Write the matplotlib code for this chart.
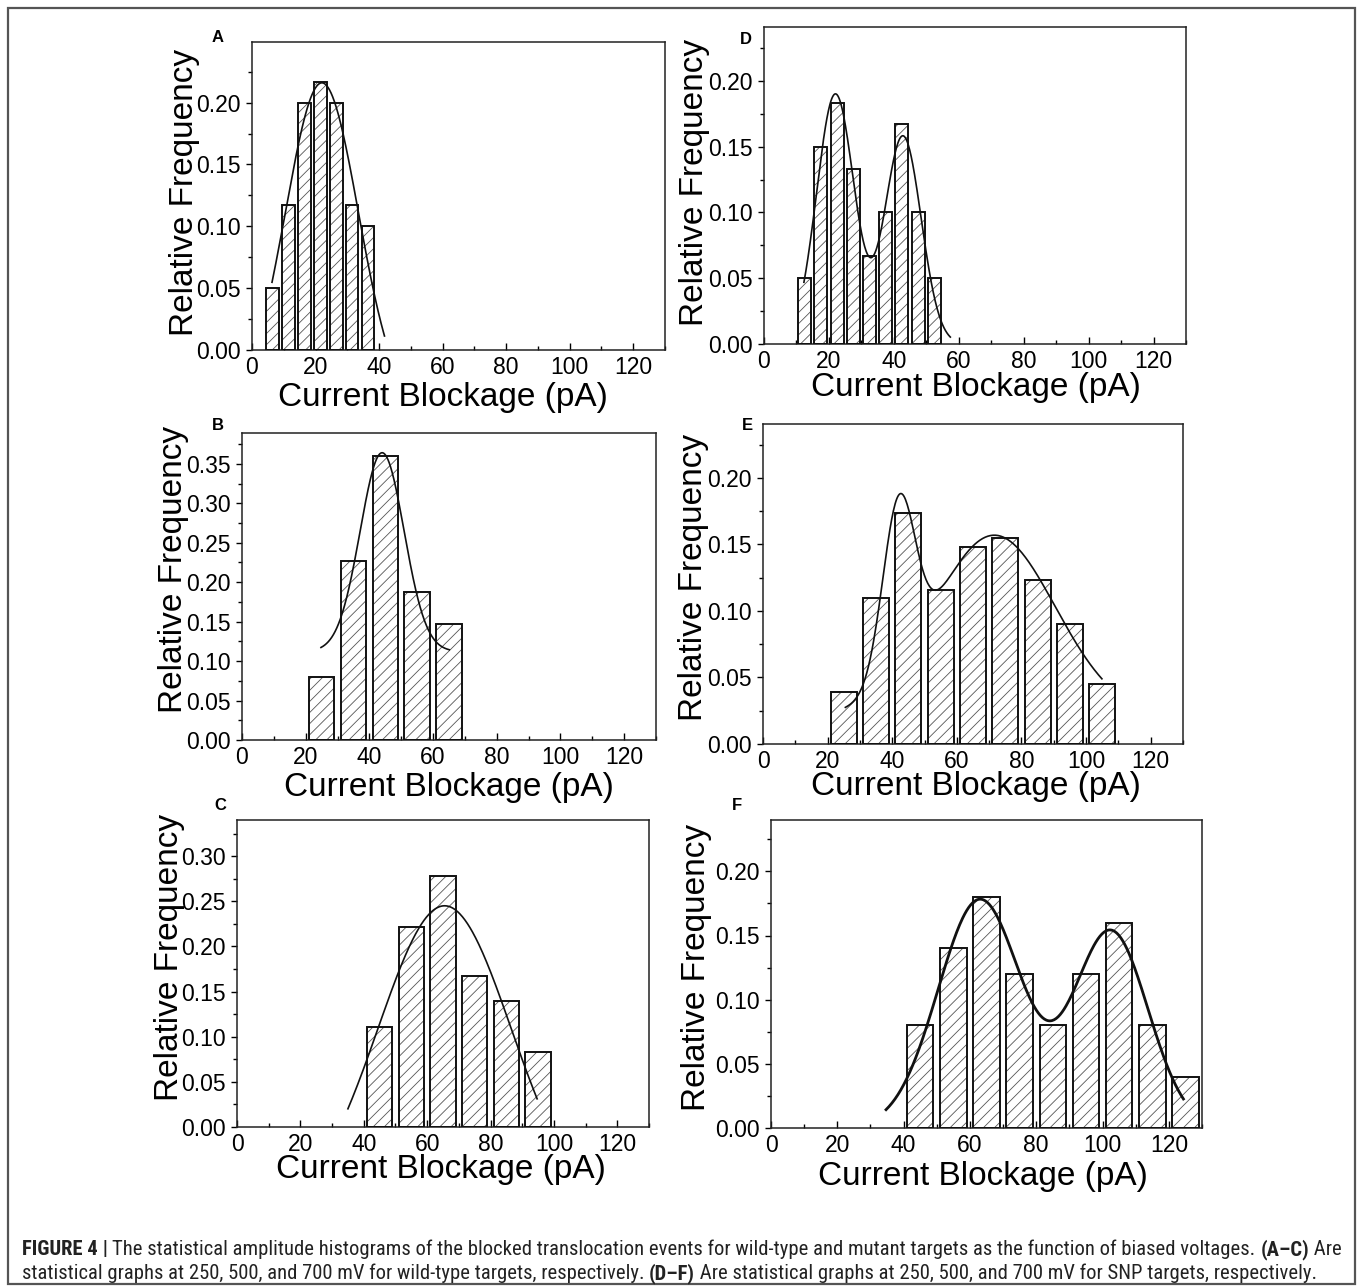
import numpy as np
import matplotlib
matplotlib.use("Agg")
from matplotlib import pyplot as plt
from matplotlib import font_manager
from matplotlib.patches import Rectangle
from matplotlib.ticker import MultipleLocator, FormatStrFormatter

plt.rcParams['font.family'] = ['Liberation Sans', 'DejaVu Sans']
plt.rcParams['hatch.linewidth'] = 0.6

W, H = 1358, 1288

# ---- data ----
a_centers = [6.5, 11.5, 16.5, 21.5, 26.5, 31.5, 36.5]
a_freq = [0.050, 0.117, 0.200, 0.217, 0.200, 0.117, 0.100]
b_centers = [25, 35, 45, 55, 65]
b_freq = [0.080, 0.227, 0.360, 0.187, 0.147]
c_centers = [45, 55, 65, 75, 85, 95]
c_freq = [0.111, 0.222, 0.278, 0.167, 0.139, 0.083]
d_centers = [12.5, 17.5, 22.5, 27.5, 32.5, 37.5, 42.5, 47.5, 52.5]
d_freq = [0.050, 0.150, 0.183, 0.133, 0.067, 0.100, 0.167, 0.100, 0.050]
e_centers = [25, 35, 45, 55, 65, 75, 85, 95, 105]
e_freq = [0.039, 0.110, 0.174, 0.116, 0.148, 0.155, 0.123, 0.090, 0.045]
f_centers = [45, 55, 65, 75, 85, 95, 105, 115, 125]
f_freq = [0.080, 0.140, 0.180, 0.120, 0.080, 0.120, 0.160, 0.080, 0.040]

# gaussian fit parameters: offset, [(amplitude, centre, sigma), ...], x range
a_fit = (-0.050, [(0.266, 22.0, 11.5)], (6.3, 41.7))
b_fit = (0.112, [(0.252, 44.0, 6.9)], (24.8, 65.1))
c_fit = (-0.100, [(0.345, 65.5, 21.0)], (35.0, 94.7))
d_fit = (0.0, [(0.190, 22.0, 5.8), (0.158, 42.8, 5.6)], (12.3, 57.4))
e_fit = (0.020, [(0.127, 42.0, 5.0), (0.137, 71.6, 18.9)], (25.5, 104.9))
f_fit = (0.0, [(0.178, 63.0, 12.6), (0.153, 102.5, 11.2)], (34.7, 124.4))

panels = [
    # letter, centers, freq, bar width, fit, ymax, axes px (l, t, r, b),
    # letter pos, ylabel (x, cy), xlabel (cx, top), fit line width
    ("A", a_centers, a_freq, 4.0, a_fit, 0.249, (252, 42, 665, 350),
     (218, 38), (200, 192), (443, 382), 1.2),
    ("B", b_centers, b_freq, 8.0, b_fit, 0.389, (242, 433, 656, 740),
     (218, 425), (189, 569), (449, 772), 1.2),
    ("C", c_centers, c_freq, 8.0, c_fit, 0.34, (237, 820, 649, 1127),
     (220, 805), (185, 957), (441, 1154), 1.2),
    ("D", d_centers, d_freq, 4.0, d_fit, 0.241, (764, 27, 1186, 344),
     (746, 39), (710, 182), (976, 372), 1.2),
    ("E", e_centers, e_freq, 8.0, e_fit, 0.2406, (763, 424, 1183, 744),
     (747, 425), (709, 577), (976, 771), 1.2),
    ("F", f_centers, f_freq, 8.0, f_fit, 0.240, (771, 820, 1202, 1128),
     (737, 805), (712, 967), (983, 1161), 2.0),
]

fig = plt.figure(figsize=(W / 100, H / 100), dpi=100)


def fx(x):
    return x / W


def fy(y):
    return 1 - y / H


# outer frame
frame = Rectangle((fx(8), fy(1284)), fx(1355) - fx(8), fy(8) - fy(1284),
                  transform=fig.transFigure, fill=False, edgecolor="#555555",
                  linewidth=1.6)
fig.add_artist(frame)

for (letter, centers, freq, bw, fit, ymax, box, lpos, ylpos, xlpos,
     lw_fit) in panels:
    l, t, r, b = box
    ax = fig.add_axes([fx(l), fy(b), (r - l) / W, (b - t) / H])
    # hatched fill then black outline
    ax.bar(centers, freq, width=bw, color="white", edgecolor="#555555",
           hatch="///", linewidth=0, zorder=2)
    ax.bar(centers, freq, width=bw, fill=False, edgecolor="#111111",
           linewidth=1.4, zorder=3)

    y0, comps, (x_lo, x_hi) = fit
    xs = np.linspace(x_lo, x_hi, 300)
    ys = np.full_like(xs, y0)
    for amp, xc, sig in comps:
        ys = ys + amp * np.exp(-(xs - xc) ** 2 / (2 * sig ** 2))
    ax.plot(xs, ys, color="#111111", linewidth=lw_fit, zorder=4)

    ax.set_xlim(0, 130)
    ax.set_ylim(0, ymax)
    ax.xaxis.set_major_locator(MultipleLocator(20))
    ax.xaxis.set_minor_locator(MultipleLocator(10))
    ax.yaxis.set_major_locator(MultipleLocator(0.05))
    ax.yaxis.set_minor_locator(MultipleLocator(0.025))
    ax.yaxis.set_major_formatter(FormatStrFormatter("%.2f"))
    ax.tick_params(axis="x", which="major", direction="in", length=5,
                   width=1.0, labelsize=16.5, pad=4)
    ax.tick_params(axis="x", which="minor", direction="in", length=3,
                   width=1.0)
    ax.tick_params(axis="y", which="major", direction="out", length=4,
                   width=1.0, labelsize=16.5, pad=4)
    ax.tick_params(axis="y", which="minor", direction="out", length=3,
                   width=1.0)
    for sp in ax.spines.values():
        sp.set_linewidth(1.1)
        sp.set_color("#222222")

    fig.text(fx(lpos[0]), fy(lpos[1]), letter, fontsize=12,
             fontweight="bold", ha="center", va="center")
    fig.text(fx(ylpos[0]), fy(ylpos[1]), "Relative Frequency", fontsize=24,
             rotation=90, ha="right", va="center")
    fig.text(fx(xlpos[0]), fy(xlpos[1]), "Current Blockage (pA)",
             fontsize=24, ha="center", va="top")

# caption font: a narrow face if one is installed
cap_font = ['Liberation Sans', 'DejaVu Sans']
for cand in ['Liberation Sans Narrow', 'Roboto Condensed', 'Arial Narrow']:
    try:
        font_manager.findfont(cand, fallback_to_default=False)
        cap_font = [cand] + cap_font
        break
    except ValueError:
        pass

line1 = [("FIGURE 4", "bold"), (" | ", "bold"),
         ("The statistical amplitude histograms of the blocked translocation "
          "events for wild-type and mutant targets as the function of biased "
          "voltages. ", "normal"),
         ("(A\u2013C)", "bold"), (" Are", "normal")]
line2 = [("statistical graphs at 250, 500, and 700 mV for wild-type targets, "
          "respectively. ", "normal"),
         ("(D\u2013F)", "bold"),
         (" Are statistical graphs at 250, 500, and 700 mV for SNP targets, "
          "respectively.", "normal")]

renderer = fig.canvas.get_renderer()


def caption_line(pieces, ypix, size, draw=True):
    xpix = 22
    for txt, wt in pieces:
        tt = fig.text(fx(xpix), fy(ypix), txt, fontsize=size, fontweight=wt,
                      family=cap_font, ha="left", va="baseline",
                      color="#222222")
        xpix += tt.get_window_extent(renderer).width
        if not draw:
            tt.remove()
    return xpix


# fit the first caption line to the width it has in the picture
base = 12.0
end = caption_line(line1, 1255, base, draw=False)
size = base * (1338 - 22) / (end - 22)
caption_line(line1, 1255, size)
caption_line(line2, 1279, size)

fig.savefig("out.png", dpi=100)
